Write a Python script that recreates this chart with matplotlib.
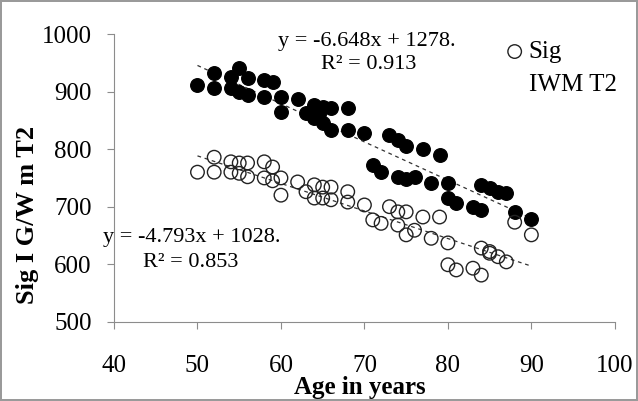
import numpy as np
import matplotlib
matplotlib.use('Agg')
import matplotlib.pyplot as plt

plt.rcParams['font.family'] = ['Liberation Serif', 'DejaVu Serif']

# filled series (upper)
age_fill = [50, 52, 52, 54, 54, 55, 55, 56, 56, 58, 58, 59, 60, 60, 62, 63,
            64, 64, 64.5, 65, 65, 66, 66, 68, 68, 70, 71, 72, 73, 74, 74, 75,
            75, 76, 77, 78, 79, 80, 80, 81, 83, 84, 84, 85, 86, 87, 88, 90]
sig_fill = [911, 932, 906, 925, 906, 941, 900, 924, 894, 920, 890, 916, 890, 864, 888, 863,
            877, 854, 862, 873, 845, 871, 833, 871, 833, 828, 772, 760, 825, 816, 752, 805,
            748, 752, 800, 741, 790, 741, 715, 706, 700, 738, 694, 732, 725, 723, 691, 678]

# open series (lower) - "Sig IWM T2"
age_open = [50, 52, 52, 54, 54, 55, 55, 56, 56, 58, 58, 59, 59, 60, 60, 62, 63,
            64, 64, 65, 65, 66, 66, 68, 68, 70, 71, 72, 73, 74, 74, 75, 75,
            76, 77, 78, 79, 80, 80, 81, 83, 84, 84, 85, 85, 86, 87, 88, 90]
sig_open = [760, 786, 760, 778, 760, 776, 758, 776, 752, 778, 750, 769, 745, 750, 720, 743, 726,
            738, 715, 734, 715, 734, 712, 726, 708, 703, 677, 671, 700, 691, 668, 691, 651,
            659, 682, 645, 682, 637, 599, 590, 593, 628, 581, 619, 622, 613, 604, 673, 651]

# trendline coefficients as printed on the chart
fit_fill = (-6.648, 1278)
fit_open = (-4.793, 1028)
eq_fill = ["y = -6.648x + 1278.", "R² = 0.913"]
eq_open = ["y = -4.793x + 1028.", "R² = 0.853"]

fig = plt.figure(figsize=(6.38, 4.01), dpi=100)
fig.patch.set_edgecolor('#9a9a9a')
fig.patch.set_linewidth(1.5)
ax = fig.add_axes([0.1787, 0.1978, 0.785, 0.717])

ax.scatter(age_fill, sig_fill, s=95, c='black', edgecolors='black', zorder=3)
ax.scatter(age_open, sig_open, s=95, facecolors='none', edgecolors='#222222',
           linewidths=1.0, zorder=3, label='Sig')

xx = np.array([50, 90])
ax.plot(xx, fit_fill[0] * xx + fit_fill[1], ls=(0, (3, 3)), c='#333333', lw=0.9, zorder=2)
ax.plot(xx, fit_open[0] * xx + fit_open[1], ls=(0, (3, 3)), c='#333333', lw=0.9, zorder=2)

ax.text(0.327, 0.973, eq_fill[0], transform=ax.transAxes, fontsize=16, ha='left', va='center')
ax.text(0.509, 0.893, eq_fill[1], transform=ax.transAxes, fontsize=16, ha='center', va='center')
ax.text(-0.0226, 0.292, eq_open[0], transform=ax.transAxes, fontsize=16, ha='left', va='center')
ax.text(0.058, 0.205, eq_open[1], transform=ax.transAxes, fontsize=16, ha='left', va='center')

ax.legend(loc='center left', bbox_to_anchor=(0.785, 0.9385), frameon=False, fontsize=18,
          handletextpad=0.26, borderaxespad=0.0, borderpad=0.0, handlelength=0.6)
ax.text(0.828, 0.824, 'IWM T2', transform=ax.transAxes, fontsize=18, ha='left', va='center')

ax.set_xlim(40, 100)
ax.set_ylim(500, 1000)
ax.set_xticks([40, 50, 60, 70, 80, 90, 100])
ax.set_yticks([500, 600, 700, 800, 900, 1000])
for s in ['top', 'right']:
    ax.spines[s].set_visible(False)
for s in ['left', 'bottom']:
    ax.spines[s].set_color('#8c8c8c')
ax.tick_params(axis='both', colors='#8c8c8c', labelcolor='black', labelsize=18, length=5)
ax.tick_params(axis='x', pad=19)
ax.tick_params(axis='y', pad=11)

ax.set_xlabel('Age in years', fontsize=18, fontweight='bold', va='top')
ax.xaxis.set_label_coords(0.491, -0.19)
ax.set_ylabel('Sig I G/W m T2', fontsize=19, fontweight='bold', va='center', ha='center')
ax.yaxis.set_label_coords(-0.172, 0.372)

fig.savefig('out.png', dpi=100)
